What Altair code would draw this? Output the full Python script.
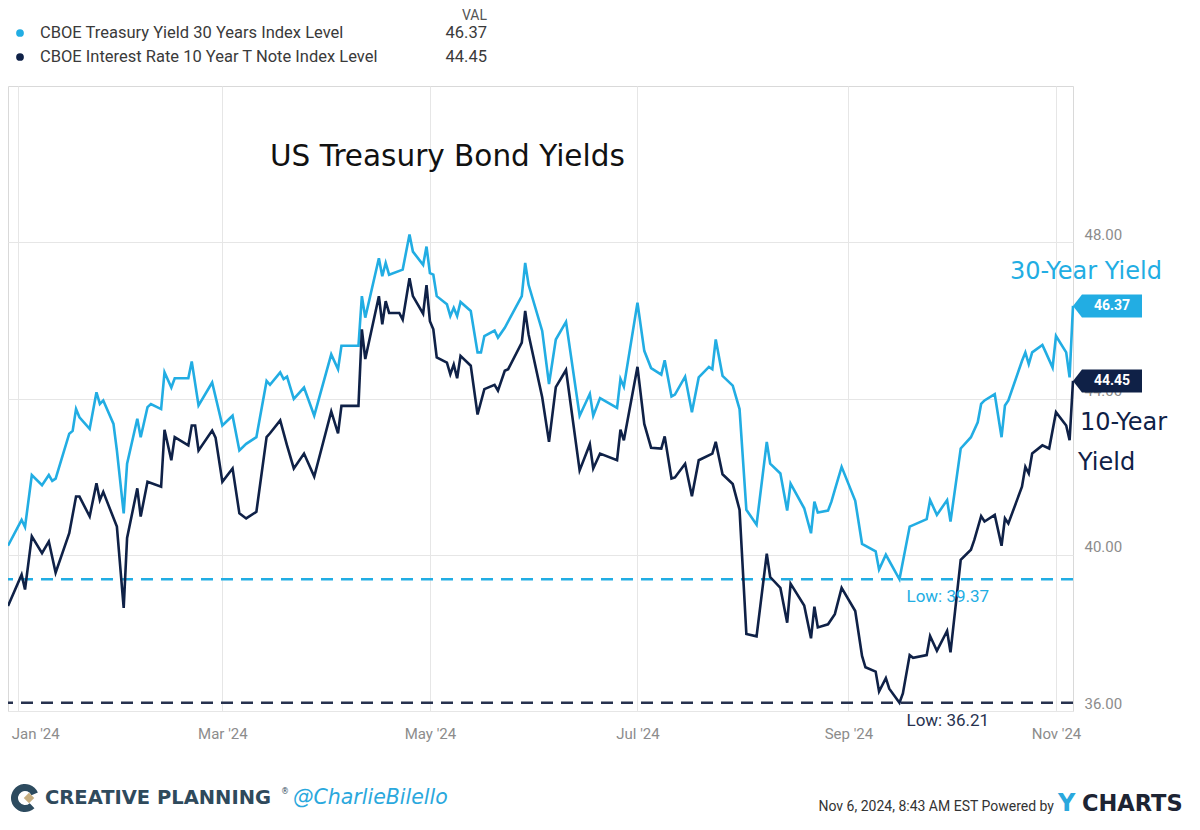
import altair as alt
import pandas as pd

LIGHT = "#22ade3"
NAVY = "#0f2147"
NAVY_DASH = "#27324f"
GRID = "#e6e6e6"
AXIS_TXT = "#8c8c8c"

# ---------------- data ----------------
dates_30y = [
    "2023-12-29", "2024-01-02", "2024-01-03", "2024-01-05", "2024-01-08", "2024-01-10", "2024-01-11", "2024-01-12",
    "2024-01-16", "2024-01-17", "2024-01-18", "2024-01-19", "2024-01-22", "2024-01-24", "2024-01-25", "2024-01-26",
    "2024-01-29", "2024-01-30",
    "2024-02-01", "2024-02-02", "2024-02-05", "2024-02-06", "2024-02-08", "2024-02-09", "2024-02-12", "2024-02-13",
    "2024-02-15", "2024-02-16", "2024-02-20", "2024-02-21", "2024-02-23", "2024-02-27",
    "2024-03-01", "2024-03-04", "2024-03-06", "2024-03-08", "2024-03-11", "2024-03-14", "2024-03-15", "2024-03-18",
    "2024-03-19", "2024-03-20", "2024-03-22", "2024-03-25", "2024-03-28",
    "2024-04-02", "2024-04-04", "2024-04-05", "2024-04-10", "2024-04-11", "2024-04-12", "2024-04-16", "2024-04-17",
    "2024-04-18", "2024-04-19", "2024-04-23", "2024-04-25", "2024-04-26", "2024-04-29", "2024-04-30",
    "2024-05-01", "2024-05-02", "2024-05-03", "2024-05-06", "2024-05-07", "2024-05-08", "2024-05-09", "2024-05-10",
    "2024-05-13", "2024-05-15", "2024-05-16", "2024-05-17", "2024-05-20", "2024-05-21", "2024-05-23", "2024-05-28",
    "2024-05-29", "2024-05-30",
    "2024-06-03", "2024-06-05", "2024-06-07", "2024-06-10", "2024-06-14", "2024-06-17", "2024-06-18", "2024-06-20",
    "2024-06-25", "2024-06-26", "2024-06-27",
    "2024-07-01", "2024-07-03", "2024-07-05", "2024-07-08", "2024-07-09", "2024-07-11", "2024-07-12", "2024-07-15",
    "2024-07-17", "2024-07-19", "2024-07-22", "2024-07-23", "2024-07-24", "2024-07-26", "2024-07-29", "2024-07-31",
    "2024-08-02", "2024-08-05", "2024-08-08", "2024-08-09", "2024-08-12", "2024-08-14", "2024-08-15", "2024-08-19",
    "2024-08-21", "2024-08-22", "2024-08-23", "2024-08-26", "2024-08-27", "2024-08-28", "2024-08-30",
    "2024-09-03", "2024-09-05", "2024-09-09", "2024-09-10", "2024-09-12", "2024-09-16", "2024-09-19", "2024-09-20",
    "2024-09-24", "2024-09-25", "2024-09-27", "2024-09-30",
    "2024-10-01", "2024-10-04", "2024-10-07", "2024-10-09", "2024-10-10", "2024-10-11", "2024-10-14", "2024-10-16",
    "2024-10-17", "2024-10-18", "2024-10-22", "2024-10-23", "2024-10-24", "2024-10-25", "2024-10-28", "2024-10-29",
    "2024-10-31",
    "2024-11-01", "2024-11-04", "2024-11-05", "2024-11-06",
]
values_30y = [
    40.23, 40.89, 40.71, 42.04, 41.78, 42.04, 41.89, 41.95, 43.10, 43.17, 43.73, 43.52, 43.22, 44.16, 43.86, 43.95,
    43.35, 42.67,
    41.06, 42.33, 43.48, 43.01, 43.78, 43.86, 43.73, 44.67, 44.28, 44.52, 44.52, 44.95, 43.82, 44.41,
    43.31, 43.56, 42.67, 42.84, 43.01, 44.45, 44.35, 44.67, 44.50, 44.56, 43.99, 44.28, 43.56,
    45.13, 44.75, 45.35, 45.35, 46.62, 46.07, 47.59, 47.13, 47.47, 47.17, 47.30, 48.20, 47.76, 47.42, 47.89,
    47.21, 47.17, 46.62, 46.41, 46.11, 46.32, 46.11, 46.47, 46.24, 45.18, 45.18, 45.60, 45.74, 45.56, 45.81, 46.62,
    47.47, 46.91,
    45.73, 44.37, 45.51, 45.96, 43.56, 44.12, 43.56, 44.01, 43.76, 44.50, 44.30,
    46.45, 45.22, 44.78, 44.61, 44.98, 44.05, 44.10, 44.56, 43.65, 44.54, 44.81, 44.75, 45.51, 44.58, 44.33, 43.73,
    41.15, 40.77, 42.89, 42.33, 42.08, 41.13, 41.82, 41.19, 40.55, 41.36, 41.08, 41.13, 41.36, 41.66, 42.25,
    41.38, 40.28, 40.09, 39.62, 40.00, 39.37, 40.72, 40.76, 40.91, 41.40, 41.02, 41.40,
    40.85, 42.72, 43.01, 43.39, 43.86, 43.95, 44.11, 43.01, 43.82, 43.95, 44.96, 45.18, 44.88, 45.18, 45.37, 45.18,
    44.79,
    45.60, 45.18, 44.54, 46.37,
]

dates_10y = [
    "2023-12-29", "2024-01-02", "2024-01-03", "2024-01-05", "2024-01-08", "2024-01-10", "2024-01-12", "2024-01-16",
    "2024-01-18", "2024-01-19", "2024-01-22", "2024-01-24", "2024-01-25", "2024-01-26", "2024-01-30",
    "2024-02-01", "2024-02-02", "2024-02-05", "2024-02-06", "2024-02-08", "2024-02-12", "2024-02-13", "2024-02-15",
    "2024-02-16", "2024-02-20", "2024-02-21", "2024-02-22", "2024-02-23", "2024-02-27", "2024-02-28",
    "2024-03-01", "2024-03-04", "2024-03-06", "2024-03-08", "2024-03-11", "2024-03-14", "2024-03-15", "2024-03-18",
    "2024-03-20", "2024-03-22", "2024-03-25", "2024-03-28",
    "2024-04-02", "2024-04-04", "2024-04-05", "2024-04-10", "2024-04-11", "2024-04-12", "2024-04-16", "2024-04-17",
    "2024-04-18", "2024-04-19", "2024-04-22", "2024-04-23", "2024-04-25", "2024-04-26", "2024-04-29", "2024-04-30",
    "2024-05-01", "2024-05-02", "2024-05-03", "2024-05-06", "2024-05-07", "2024-05-08", "2024-05-09", "2024-05-10",
    "2024-05-13", "2024-05-15", "2024-05-17", "2024-05-20", "2024-05-21", "2024-05-23", "2024-05-24", "2024-05-28",
    "2024-05-29", "2024-05-30",
    "2024-06-03", "2024-06-05", "2024-06-07", "2024-06-10", "2024-06-14", "2024-06-17", "2024-06-18", "2024-06-20",
    "2024-06-25", "2024-06-26", "2024-06-27",
    "2024-07-01", "2024-07-03", "2024-07-05", "2024-07-08", "2024-07-09", "2024-07-11", "2024-07-12", "2024-07-15",
    "2024-07-17", "2024-07-19", "2024-07-23", "2024-07-24", "2024-07-26", "2024-07-29", "2024-07-31",
    "2024-08-02", "2024-08-05", "2024-08-08", "2024-08-09", "2024-08-12", "2024-08-14", "2024-08-15", "2024-08-19",
    "2024-08-21", "2024-08-22", "2024-08-23", "2024-08-26", "2024-08-28", "2024-08-30",
    "2024-09-03", "2024-09-05", "2024-09-06", "2024-09-09", "2024-09-10", "2024-09-12", "2024-09-13", "2024-09-16",
    "2024-09-17", "2024-09-19", "2024-09-20", "2024-09-24", "2024-09-25", "2024-09-27", "2024-09-30",
    "2024-10-01", "2024-10-04", "2024-10-07", "2024-10-08", "2024-10-10", "2024-10-11", "2024-10-14", "2024-10-16",
    "2024-10-17", "2024-10-18", "2024-10-22", "2024-10-23", "2024-10-24", "2024-10-25", "2024-10-28", "2024-10-30",
    "2024-11-01", "2024-11-04", "2024-11-05", "2024-11-06",
]
values_10y = [
    38.69, 39.49, 39.11, 40.47, 40.04, 40.34, 39.54, 40.55, 41.49, 41.49, 40.98, 41.83, 41.40, 41.61, 40.72,
    38.64, 40.43, 41.70, 40.98, 41.87, 41.74, 43.20, 42.42, 43.01, 42.80, 43.31, 43.31, 42.67, 43.18, 43.00,
    41.87, 42.21, 41.06, 40.93, 41.10, 43.01, 43.11, 43.44, 42.80, 42.21, 42.59, 42.00,
    43.67, 43.11, 43.81, 43.81, 45.77, 45.01, 46.62, 45.90, 46.49, 46.19, 46.19, 46.02, 47.08, 46.62, 46.17, 46.90,
    45.98, 45.77, 45.05, 44.92, 44.62, 44.87, 44.52, 45.09, 44.84, 43.59, 44.24, 44.35, 44.20, 44.71, 44.75, 45.43,
    46.24, 45.64,
    44.03, 42.89, 44.29, 44.73, 42.16, 42.83, 42.21, 42.59, 42.42, 43.20, 42.93,
    44.81, 43.35, 42.74, 42.72, 43.03, 41.95, 41.98, 42.33, 41.50, 42.42, 42.59, 42.89, 42.06, 41.81, 41.15,
    37.97, 37.91, 40.03, 39.43, 39.15, 38.26, 39.26, 38.70, 37.86, 38.67, 38.14, 38.22, 38.48, 39.15,
    38.56, 37.41, 37.12, 37.01, 36.50, 36.84, 36.57, 36.21, 36.45, 37.43, 37.36, 37.43, 37.92, 37.54, 38.05,
    37.50, 39.87, 40.13, 40.38, 40.99, 40.85, 41.02, 40.23, 40.93, 40.80, 41.74, 42.25, 42.08, 42.59, 42.80, 42.72,
    43.65, 43.31, 42.93, 44.45,
]

series_names = ["CBOE Treasury Yield 30 Years Index Level", "CBOE Interest Rate 10 Year T Note Index Level"]
last_values = [46.37, 44.45]
last_date = "2024-11-06"
low_dates = ["2024-09-16", "2024-09-16"]
low_values = [39.37, 36.21]
x_tick_dates = [(2024, 1), (2024, 3), (2024, 5), (2024, 7), (2024, 9), (2024, 11)]
y_ticks = [36, 40, 44, 48]
y_domain = [36, 52]

# ---------------- tables ----------------
df30 = pd.DataFrame({"date": dates_30y, "value": values_30y})
df10 = pd.DataFrame({"date": dates_10y, "value": values_10y})
flag_df = pd.DataFrame({
    "date": [last_date, last_date],
    "value": last_values,
    "label": [f"{v:.2f}" for v in last_values],
    "c": [LIGHT, NAVY],
})
low_df = pd.DataFrame({
    "date": low_dates,
    "value": low_values,
    "label": [f"Low: {v:.2f}" for v in low_values],
    "c": [LIGHT, NAVY_DASH],
})

x_domain = [alt.DateTime(year=2023, month=12, date=29, utc=True),
            alt.DateTime(year=2024, month=11, date=6, utc=True)]
x_vals = [alt.DateTime(year=y, month=m, date=1, utc=True) for y, m in x_tick_dates]

x_scale = alt.Scale(type="utc", domain=x_domain)
y_scale = alt.Scale(domain=y_domain, nice=False, zero=False)

x_axis = alt.Axis(
    values=x_vals, format="%b '%y", labelFont="Roboto", labelFontSize=15, labelColor=AXIS_TXT,
    labelPadding=15, ticks=False, domain=False, grid=True, gridColor=GRID, gridWidth=1,
    labelOverlap=False, labelFlush=False, title=None,
    labelOffset={"condition": {"test": "utcmonth(datum.value) === 0", "value": 17}, "value": 0},
)
y_axis = alt.Axis(
    orient="right", values=y_ticks, format=".2f", labelFont="Roboto", labelFontSize=15,
    labelColor=AXIS_TXT, labelPadding=11, labelBaseline="bottom", labelAlign="left",
    ticks=False, domain=False, grid=True, gridColor=GRID, gridWidth=1, title=None,
)

X = alt.X("date:T", scale=x_scale, axis=x_axis, title=None)
Y = alt.Y("value:Q", scale=y_scale, axis=y_axis, title=None)

low_rules = alt.Chart(low_df).mark_rule(strokeDash=[12, 8], strokeWidth=2.5).encode(
    y=Y, color=alt.Color("c:N", scale=None))

line30 = alt.Chart(df30).mark_line(strokeWidth=2.6, color=LIGHT, strokeJoin="miter").encode(x=X, y=Y)
line10 = alt.Chart(df10).mark_line(strokeWidth=2.6, color=NAVY, strokeJoin="miter").encode(x=X, y=Y)

low_text = alt.Chart(low_df).mark_text(align="left", baseline="middle", dx=7, dy=18, font="Roboto",
                                       fontSize=17).encode(
    x=X, y=Y, text="label:N", color=alt.Color("c:N", scale=None))

flag_path = "M -1 0 L -0.74 -0.333 L 1 -0.333 L 1 0.333 L -0.74 0.333 Z"
flags = alt.Chart(flag_df).mark_point(shape=flag_path, size=4761, filled=True, opacity=1, strokeWidth=0,
                                      xOffset=34.5).encode(
    x=X, y=Y, color=alt.Color("c:N", scale=None))
flag_text = alt.Chart(flag_df).mark_text(dx=39, color="white", fontWeight="bold", fontSize=14,
                                         font="Roboto").encode(x=X, y=Y, text="label:N")


def label(text, x, y, **kw):
    return alt.Chart(pd.DataFrame({"t": [text]})).mark_text(**kw).encode(
        x=alt.value(x), y=alt.value(y), text="t:N")


def dot(x, y, color, size=60):
    return alt.Chart(pd.DataFrame({"t": [0]})).mark_circle(size=size, opacity=1, color=color).encode(
        x=alt.value(x), y=alt.value(y))


legend = [
    dot(12, -53, LIGHT), dot(12, -29, NAVY),
    label(series_names[0], 32, -53, align="left", baseline="middle", font="Roboto", fontSize=16.5,
          color="#3a3a3a"),
    label(series_names[1], 32, -29, align="left", baseline="middle", font="Roboto", fontSize=16.5,
          color="#3a3a3a"),
    label("VAL", 479, -70, align="right", baseline="middle", font="Roboto", fontSize=14, color="#555555"),
    label(f"{last_values[0]:.2f}", 479, -53, align="right", baseline="middle", font="Roboto", fontSize=16.5,
          color="#3a3a3a"),
    label(f"{last_values[1]:.2f}", 479, -29, align="right", baseline="middle", font="Roboto", fontSize=16.5,
          color="#3a3a3a"),
]

HAND = "DejaVu Sans"
annotations = [
    label("US Treasury Bond Yields", 262, 71, align="left", baseline="middle", font=HAND, fontSize=29.5,
          color="#111111"),
    label("30-Year Yield", 1002, 186, align="left", baseline="middle", font=HAND, fontSize=24, color=LIGHT),
    label("10-Year", 1072, 337, align="left", baseline="middle", font=HAND, fontSize=24, color=NAVY),
    label("Yield", 1070, 377, align="left", baseline="middle", font=HAND, fontSize=24, color=NAVY),
]

logo_c = alt.Chart(pd.DataFrame({"t": [0]})).mark_arc(
    radius=14, radius2=7, theta=2.4, theta2=7.45, color="#2d4b5f").encode(x=alt.value(17), y=alt.value(712))
logo_d = alt.Chart(pd.DataFrame({"t": [0]})).mark_point(
    shape="diamond", filled=True, size=110, opacity=1, color="#c6ad7f").encode(x=alt.value(21), y=alt.value(712))

footer = [
    logo_c, logo_d,
    label("CREATIVE PLANNING", 37, 712, align="left", baseline="middle", font="DejaVu Sans", fontSize=19.5,
          fontWeight="bold", color="#2f4a5c"),
    label("®", 273, 706, align="left", baseline="middle", font="DejaVu Sans", fontSize=8, color="#2f4a5c"),
    label("@CharlieBilello", 285, 712, align="left", baseline="middle", font="DejaVu Sans", fontSize=20.5,
          fontStyle="italic", color="#2aa8dd"),
    label("Nov 6, 2024, 8:43 AM EST Powered by", 1046, 725, align="right", baseline="alphabetic", font="Roboto",
          fontSize=14, color="#333333"),
    label("Y", 1050, 725, align="left", baseline="alphabetic", font="DejaVu Sans", fontSize=24, fontWeight="bold",
          color="#2aa8dd"),
    label("CHARTS", 1074, 725, align="left", baseline="alphabetic", font="DejaVu Sans", fontSize=22.5,
          fontWeight="bold", color="#1d2433"),
]

chart = alt.layer(
    line30, low_rules, line10, low_text, flags, flag_text, *legend, *annotations, *footer
).properties(
    width=1065, height=625,
    autosize=alt.AutoSizeParams(type="none"),
    padding={"left": 0, "top": 78, "right": 119, "bottom": 107},
    background="white",
).configure_view(stroke="#d9d9d9", strokeWidth=1)

chart.save("out.html", embed_options={"renderer": "svg", "actions": False})
